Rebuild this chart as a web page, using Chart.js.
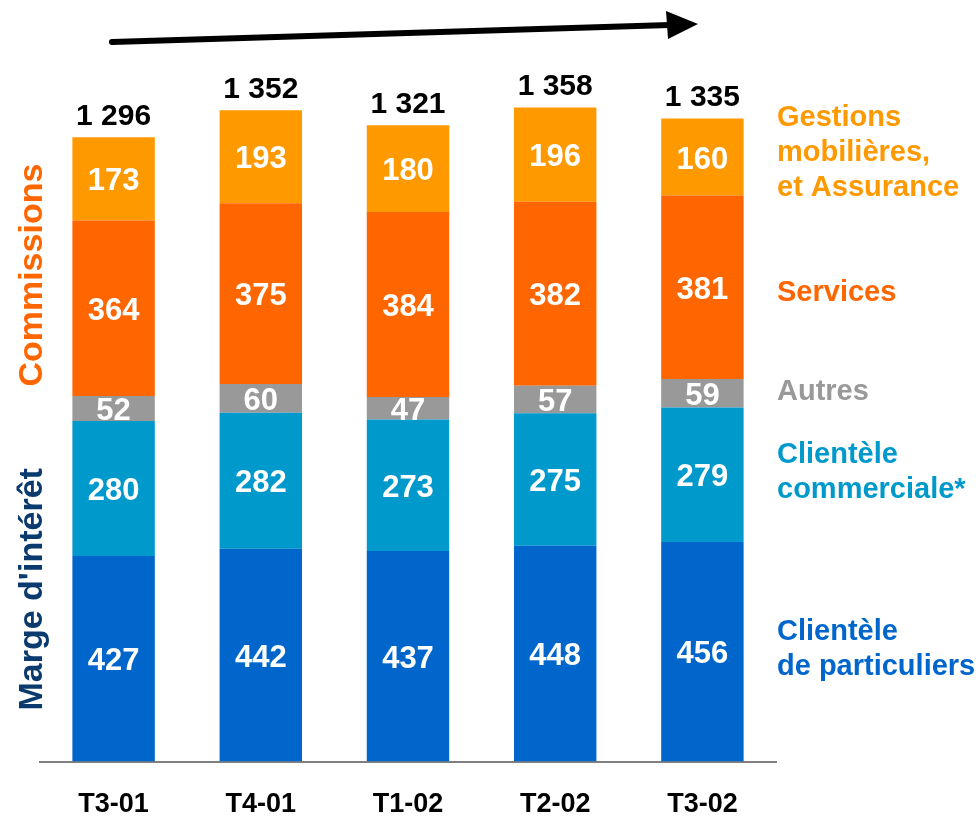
<!DOCTYPE html>
<html>
<head>
<meta charset="utf-8">
<script src="https://cdn.jsdelivr.net/npm/chart.js@4"></script>
<style>
  body { margin: 0; background: #fff; }
  #wrap { width: 978px; height: 819px; }
</style>
</head>
<body>
<div id="wrap"><canvas id="myChart"></canvas></div>
<script>
// ------------ data -------------
const quarters = ['T3-01', 'T4-01', 'T1-02', 'T2-02', 'T3-02'];
const particuliers = [427, 442, 437, 448, 456];
const commerciale = [280, 282, 273, 275, 279];
const autres = [52, 60, 47, 57, 59];
const services = [364, 375, 384, 382, 381];
const gestions = [173, 193, 180, 196, 160];
const totals = [1296, 1352, 1321, 1358, 1335];

const seriesNames = [
  ['Clientèle', 'de particuliers'],
  ['Clientèle', 'commerciale*'],
  ['Autres'],
  ['Services'],
  ['Gestions', 'mobilières,', 'et Assurance']
];
const colors = ['#0066CC', '#0099CC', '#999999', '#FF6600', '#FF9900'];
const seriesValues = [particuliers, commerciale, autres, services, gestions];

const FONT = '"Liberation Sans", Arial, sans-serif';

// ------------ labels plugin -------------
const labelPlugin = {
  id: 'labels',
  afterDatasetsDraw(chart) {
    const ctx = chart.ctx;
    const area = chart.chartArea;
    const y = chart.scales.y;
    ctx.save();

    // values inside the bars
    ctx.font = 'bold 31px ' + FONT;
    ctx.fillStyle = '#fff';
    ctx.textAlign = 'center';
    ctx.textBaseline = 'middle';
    chart.data.datasets.forEach((ds, i) => {
      chart.getDatasetMeta(i).data.forEach((el, j) => {
        ctx.fillText(ds.data[j], el.x, (el.y + el.base) / 2 + 3);
      });
    });

    // totals on top
    const topMeta = chart.getDatasetMeta(chart.data.datasets.length - 1);
    ctx.font = 'bold 30px ' + FONT;
    ctx.fillStyle = '#000';
    ctx.textBaseline = 'alphabetic';
    topMeta.data.forEach((el, j) => {
      const t = String(totals[j]).replace(/\B(?=(\d{3})+(?!\d))/g, ' ');
      ctx.fillText(t, el.x, el.y - 12);
    });

    // series names on the right, next to last bar
    ctx.font = 'bold 29px ' + FONT;
    ctx.textAlign = 'left';
    ctx.textBaseline = 'middle';
    const last = quarters.length - 1;
    const nudge = [-2, -2, -1, 6, -4];
    chart.data.datasets.forEach((ds, i) => {
      const el = chart.getDatasetMeta(i).data[last];
      const cy = (el.y + el.base) / 2 + nudge[i];
      const lines = seriesNames[i];
      ctx.fillStyle = colors[i];
      lines.forEach((ln, k) => {
        ctx.fillText(ln, area.right + 1, cy + (k - (lines.length - 1) / 2) * 35);
      });
    });

    // group names on the left (rotated)
    const marge = particuliers[0] + commerciale[0];
    const commY = (y.getPixelForValue(marge) + y.getPixelForValue(totals[0])) / 2 - 4;
    const margeY = (y.getPixelForValue(0) + y.getPixelForValue(marge)) / 2 - 2;
    ctx.font = 'bold 34px ' + FONT;
    ctx.textAlign = 'center';
    ctx.textBaseline = 'middle';
    [['Commissions', commY, '#FF6600'], ["Marge d'intérêt", margeY, '#0B3A6E']].forEach(g => {
      ctx.save();
      ctx.translate(area.left - 7, g[1]);
      ctx.rotate(-Math.PI / 2);
      ctx.fillStyle = g[2];
      ctx.fillText(g[0], 0, 0);
      ctx.restore();
    });

    // growth arrow
    const x0 = area.left + 72, y0 = area.top + 3;
    const x1 = area.left + 630, y1 = area.top - 14;
    ctx.strokeStyle = '#000';
    ctx.lineWidth = 6;
    ctx.lineCap = 'round';
    ctx.beginPath();
    ctx.moveTo(x0, y0);
    ctx.lineTo(x1, y1);
    ctx.stroke();
    ctx.fillStyle = '#000';
    ctx.beginPath();
    ctx.moveTo(x1 - 4, y1 - 14);
    ctx.lineTo(x1 + 28, y1 - 1);
    ctx.lineTo(x1 - 2, y1 + 14);
    ctx.closePath();
    ctx.fill();

    ctx.restore();
  }
};

// ------------ chart -------------
const data = {
  labels: quarters,
  datasets: seriesValues.map((vals, i) => ({
    label: seriesNames[i].join(' '),
    data: vals,
    backgroundColor: colors[i],
    borderWidth: 0,
    barPercentage: 0.56,
    categoryPercentage: 1
  }))
};

const config = {
  type: 'bar',
  data: data,
  options: {
    responsive: true,
    maintainAspectRatio: false,
    animation: false,
    layout: { padding: { left: 40, right: 202, top: 39, bottom: -29 } },
    plugins: { legend: { display: false }, tooltip: { enabled: false } },
    scales: {
      x: {
        stacked: true,
        grid: { display: false, drawTicks: false },
        border: { display: true, color: '#808080', width: 2 },
        ticks: { color: '#000', font: { family: FONT, size: 27, weight: 'bold' }, padding: 27 }
      },
      y: {
        stacked: true,
        display: false,
        min: 0,
        max: 1500
      }
    }
  },
  plugins: [labelPlugin]
};

var myChart = new Chart(document.getElementById('myChart'), config);
</script>
</body>
</html>
